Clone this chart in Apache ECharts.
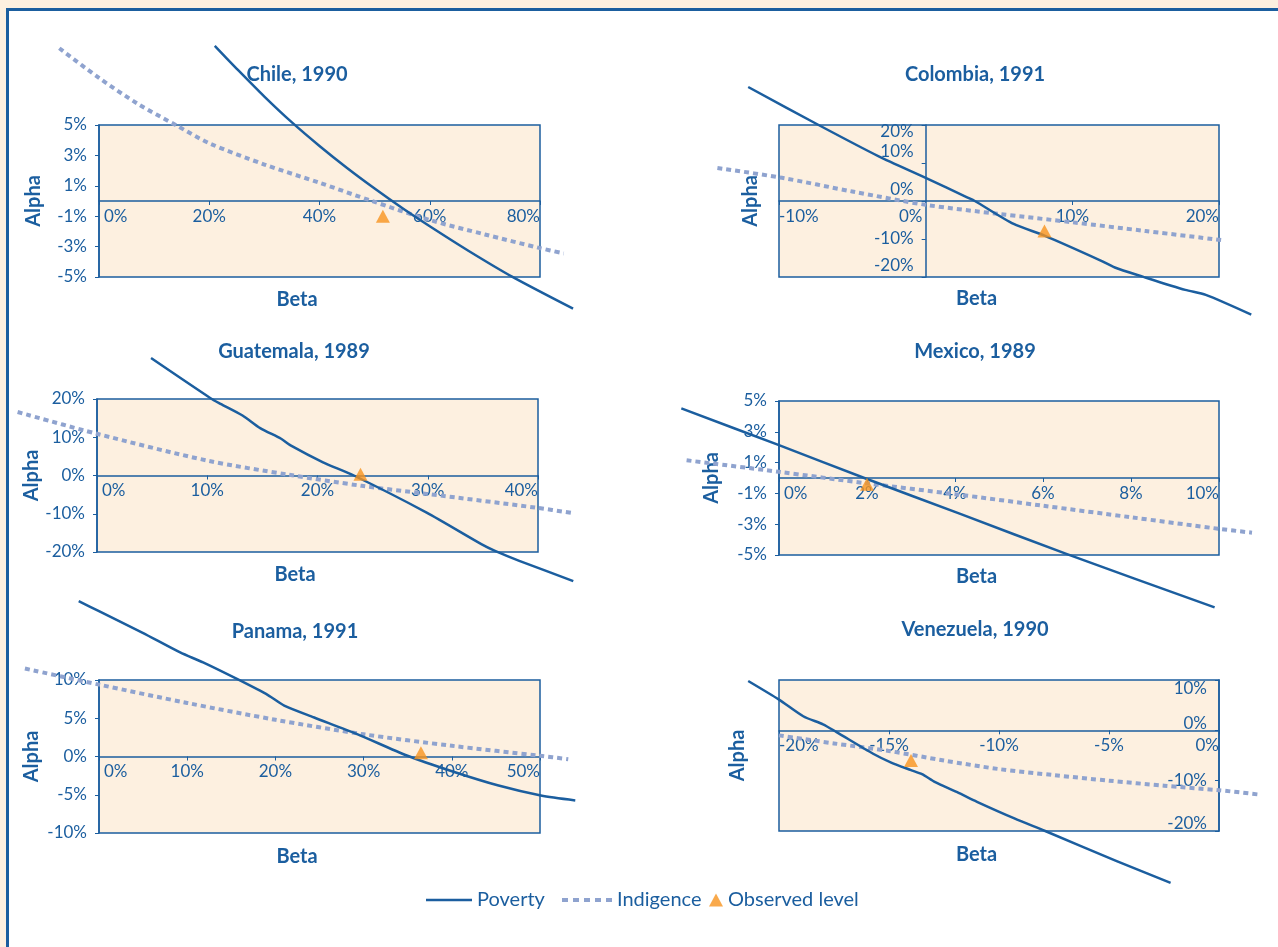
<!DOCTYPE html>
<html>
<head>
<meta charset="utf-8">
<script src="https://cdn.jsdelivr.net/npm/echarts@6/dist/echarts.min.js"></script>
<style>
  html, body { margin: 0; padding: 0; background: #fdf0e0; }
  #frame { position: absolute; left: 6px; top: 8px; width: 1300px; height: 1000px;
           background: #ffffff; border-left: 3px solid #1b5e9f; border-top: 3px solid #1b5e9f; }
  #chart { position: absolute; left: 0; top: 0; width: 1278px; height: 947px; }
</style>
</head>
<body>
<div id="frame"></div>
<div id="chart"></div>
<script>
// ---------- DATA (values in %) ----------
const panelTitles = ['Chile, 1990', 'Colombia, 1991', 'Guatemala, 1989', 'Mexico, 1989', 'Panama, 1991', 'Venezuela, 1990'];
const seriesNames = ['Poverty', 'Indigence', 'Observed level'];

const chilePoverty = [[21,10.2],[25,8.7],[30,6.87],[35,5.17],[40,3.62],[45,2.17],[50,0.82],[55,-0.46],[60,-1.66],[67,-3.27],[75,-4.99],[86,-7.08]];
const chileIndigence = [[-7.2,10.05],[0,8.1],[7,6.4],[13.9,5.0],[20,3.8],[30,2.4],[40,1.2],[49.5,0],[60,-1.25],[70,-2.2],[80,-3.1],[84.3,-3.45]];
const chileObserved = [[51.5,-1.0]];

const colombiaPoverty = [[-12.1,30],[-7.3,20],[-3.2,11.75],[0,6.1],[2.86,0.9],[3.35,0],[6.0,-6.05],[8.1,-9.1],[11.9,-15.6],[12.9,-17.5],[14.8,-19.9],[17.7,-23.4],[19.1,-24.7],[22.2,-29.9]];
const colombiaIndigence = [[-14.2,8.7],[-9.8,6.1],[-5,2.5],[0,-1.0],[5,-3.4],[10,-5.6],[15,-7.9],[20.2,-10.3]];
const colombiaObserved = [[8.1,-7.9]];

const guatemalaPoverty = [[4.9,30.7],[10.3,20.2],[11.2,18.75],[13.2,15.7],[14.8,12.4],[16.7,9.6],[17.6,7.8],[20.5,3.45],[23.3,0],[29.9,-9.7],[34.9,-18],[36.1,-19.7],[38.3,-22.3],[43.2,-27.6]];
const guatemalaIndigence = [[-7.2,16.6],[0,10.9],[10,3.9],[17.4,0.2],[24,-2.7],[29.9,-4.8],[39.8,-8.4],[43.2,-9.85]];
const guatemalaObserved = [[23.9,0.3]];

const mexicoPoverty = [[-2.22,4.52],[0,2.13],[1.94,0],[4.12,-2.33],[6.53,-4.93],[9.9,-8.4]];
const mexicoIndigence = [[-2.1,1.15],[0,0.4],[2,-0.35],[4,-1.05],[6,-1.8],[8,-2.55],[10,-3.3],[10.75,-3.55]];
const mexicoObserved = [[2.0,-0.4]];

const panamaPoverty = [[-2.3,20.3],[0,19.0],[4.9,16.2],[9.2,13.6],[11.8,12.3],[15.7,10.1],[19.2,8.0],[21,6.65],[24.4,5.1],[29.2,2.96],[34.9,0.13],[40.1,-1.96],[45.3,-3.8],[50.1,-5.1],[54,-5.74]];
const panamaIndigence = [[-8.4,11.5],[0,9.4],[10,7.0],[20,4.8],[30,2.9],[40,1.4],[50,0.1],[53.2,-0.35]];
const panamaObserved = [[36.5,0.5]];

const venezuelaPoverty = [[-21.4,9.8],[-20,6.1],[-18.9,2.8],[-18.0,1.2],[-17.4,-0.3],[-15.7,-4.7],[-14.9,-6.4],[-14.0,-7.9],[-13.5,-8.7],[-12.9,-10.3],[-11.9,-12.3],[-11.0,-14.2],[-9.3,-17.5],[-7.9,-20],[-4.65,-26],[-2.2,-30.3]];
const venezuelaIndigence = [[-20,-1.0],[-17.5,-2.6],[-15,-4.1],[-12.5,-6.0],[-10,-7.7],[-7.5,-8.9],[-5,-10.0],[-2.5,-11.0],[0,-11.9],[1.9,-12.8]];
const venezuelaObserved = [[-14.0,-6.0]];

// axis ranges [min, max, interval]
const xRanges = [[0,80,20],[-10,20,10],[0,40,10],[0,10,2],[0,50,10],[-20,0,5]];
const yRanges = [[-5,5,2],[-20,20,10],[-20,20,10],[-5,5,2],[-10,10,5],[-20,10,10]];

const povertyData = [chilePoverty, colombiaPoverty, guatemalaPoverty, mexicoPoverty, panamaPoverty, venezuelaPoverty];
const indigenceData = [chileIndigence, colombiaIndigence, guatemalaIndigence, mexicoIndigence, panamaIndigence, venezuelaIndigence];
const observedData = [chileObserved, colombiaObserved, guatemalaObserved, mexicoObserved, panamaObserved, venezuelaObserved];

// ---------- LAYOUT / STYLE ----------
const BLUE = '#1b5e9f';
const DASH = '#8fa3cf';
const ORANGE = '#f7931e';
const BEIGE = '#fdf0e0';
const FONT = 'Lato, "Open Sans", sans-serif';

const grids = [
  {left: 99,  top: 125, width: 441, height: 152},
  {left: 779, top: 125, width: 440, height: 152},
  {left: 97,  top: 399, width: 441, height: 153},
  {left: 779, top: 401, width: 440, height: 154},
  {left: 99,  top: 680, width: 441, height: 153},
  {left: 779, top: 680, width: 440, height: 151}
];
const titlePos = [[297,75],[975,75],[294,352],[975,352],[295,632],[975,630]];
const alphaGap = [55, 165, 55, 57, 57, 471];
const betaGap = [89, 88, 89, 89, 90, 114];

// per-panel label nudges (px)
const yShift = {
  1: {'20': 7, '10': -11, '0': -11, '-20': -11},
  5: {'10': 9, '0': -7, '-20': -7}
};
const xShiftLeft = {1: {'0': 15}};
const xShiftRight = {0: {'0': 5}, 2: {'0': 5}, 3: {'0': 5}, 4: {'0': 5}};

const LABEL_SIZE = 17;
function richFor(size) {
  const r = {};
  for (let d = 1; d <= 20; d++) {
    r['dn' + d] = {fontSize: size, fontFamily: FONT, color: BLUE, padding: [2 * d, 0, 0, 0]};
    r['up' + d] = {fontSize: size, fontFamily: FONT, color: BLUE, padding: [0, 0, 2 * d, 0]};
    r['lf' + d] = {fontSize: size, fontFamily: FONT, color: BLUE, padding: [0, 2 * d, 0, 0]};
    r['rt' + d] = {fontSize: size, fontFamily: FONT, color: BLUE, padding: [0, 0, 0, d]};
  }
  return r;
}
const RICH = richFor(LABEL_SIZE);

// axis placed where the other axis is zero (x axis at alpha=0, y axis at beta=0)
function zeroOffsetX(i) { const r = yRanges[i]; return -grids[i].height * (0 - r[0]) / (r[1] - r[0]); }
function zeroOffsetY(i) { const r = xRanges[i]; return -grids[i].width * (0 - r[0]) / (r[1] - r[0]); }

const option = {
  animation: false,
  backgroundColor: 'transparent',
  textStyle: {fontFamily: FONT},
  grid: grids.map(g => Object.assign({
    show: true, backgroundColor: BEIGE, borderColor: BLUE, borderWidth: 1.5,
    containLabel: false, outerBoundsMode: 'none'
  }, g)),
  xAxis: xRanges.map((r, i) => ({
    type: 'value', gridIndex: i, min: r[0], max: r[1], interval: r[2],
    position: 'bottom', offset: zeroOffsetX(i),
    axisLine: {onZero: false, lineStyle: {color: BLUE, width: 1.5}},
    axisTick: {show: true, length: 4, lineStyle: {color: BLUE}},
    splitLine: {show: false},
    axisLabel: {
      color: BLUE, fontSize: LABEL_SIZE, fontFamily: FONT, margin: 7,
      alignMinLabel: 'left', alignMaxLabel: 'right',
      rich: RICH,
      formatter: function (v) {
        const l = xShiftLeft[i] && xShiftLeft[i][String(v)];
        if (l) return '{lf' + l + '|' + v + '%}';
        const rr = xShiftRight[i] && xShiftRight[i][String(v)];
        if (rr) return '{rt' + rr + '|' + v + '%}';
        return v + '%';
      }
    },
    name: 'Beta', nameLocation: 'middle', nameGap: betaGap[i], nameMoveOverlap: false,
    nameTextStyle: {color: BLUE, fontSize: 20, fontWeight: 'bold', fontFamily: FONT, padding: [0, 45, 0, 0]}
  })),
  yAxis: yRanges.map((r, i) => ({
    type: 'value', gridIndex: i, min: r[0], max: r[1], interval: r[2],
    position: 'left', offset: zeroOffsetY(i),
    axisLine: {show: true, onZero: false, lineStyle: {color: BLUE, width: 1.5}},
    axisTick: {show: true, length: 4, lineStyle: {color: BLUE}},
    splitLine: {show: false},
    axisLabel: {
      color: BLUE, fontSize: LABEL_SIZE, fontFamily: FONT, margin: 12,
      rich: RICH,
      formatter: function (v) {
        const s = yShift[i] && yShift[i][String(v)];
        if (!s) return v + '%';
        return '{' + (s > 0 ? 'dn' + s : 'up' + (-s)) + '|' + v + '%}';
      }
    },
    name: 'Alpha', nameLocation: 'middle', nameGap: alphaGap[i], nameRotate: 90, nameMoveOverlap: false,
    nameTextStyle: {color: BLUE, fontSize: 20, fontWeight: 'bold', fontFamily: FONT}
  })),
  legend: [
    {data: [{name: 'Poverty', icon: 'path://M0,0h46v2.5h-46z'}], left: 426, top: 890, padding: 0,
     itemWidth: 46, itemHeight: 2.5, textStyle: {color: BLUE, fontSize: 20, fontFamily: FONT}},
    {data: [{name: 'Indigence', icon: 'path://M0,0h6v4h-6z M11,0h6v4h-6z M22,0h6v4h-6z M33,0h6v4h-6z M44,0h6v4h-6z'}],
     left: 562, top: 890, padding: 0, itemWidth: 50, itemHeight: 4,
     textStyle: {color: BLUE, fontSize: 20, fontFamily: FONT}},
    {data: [{name: 'Observed level', icon: 'triangle'}], left: 709, top: 890, padding: 0,
     itemWidth: 14, itemHeight: 13, textStyle: {color: BLUE, fontSize: 20, fontFamily: FONT}}
  ],
  graphic: panelTitles.map((t, i) => ({
    type: 'text', x: titlePos[i][0], y: titlePos[i][1], z: 10,
    style: {text: t, align: 'center', verticalAlign: 'middle', fill: BLUE,
            fontSize: 20, fontWeight: 'bold', fontFamily: FONT}
  })),
  series: []
};

function curveSeries(name, i, arr, color, width, dash, smooth, z) {
  return {
    name: name, type: 'custom', xAxisIndex: i, yAxisIndex: i, clip: false, z: z,
    data: [arr[0]], encode: {x: 0, y: 1},
    itemStyle: {color: color},
    renderItem: function (params, api) {
      const pts = arr.map(p => api.coord(p));
      return {
        type: 'polyline', silent: true,
        shape: {points: pts, smooth: smooth},
        style: {stroke: color, lineWidth: width, lineDash: dash, fill: null, lineCap: 'butt', lineJoin: 'round'}
      };
    }
  };
}

for (let i = 0; i < 6; i++) {
  option.series.push(curveSeries('Indigence', i, indigenceData[i], DASH, 4, [5, 4], 0.3, 2));
  option.series.push(curveSeries('Poverty', i, povertyData[i], BLUE, 2.5, null, 0.25, 3));
  option.series.push({
    name: 'Observed level', type: 'scatter', xAxisIndex: i, yAxisIndex: i, data: observedData[i],
    symbol: 'triangle', symbolSize: [14, 13], clip: false, z: 5,
    itemStyle: {color: ORANGE}
  });
}

const chart = echarts.init(document.getElementById('chart'), null, {renderer: 'canvas'});
chart.setOption(option);
</script>
</body>
</html>
